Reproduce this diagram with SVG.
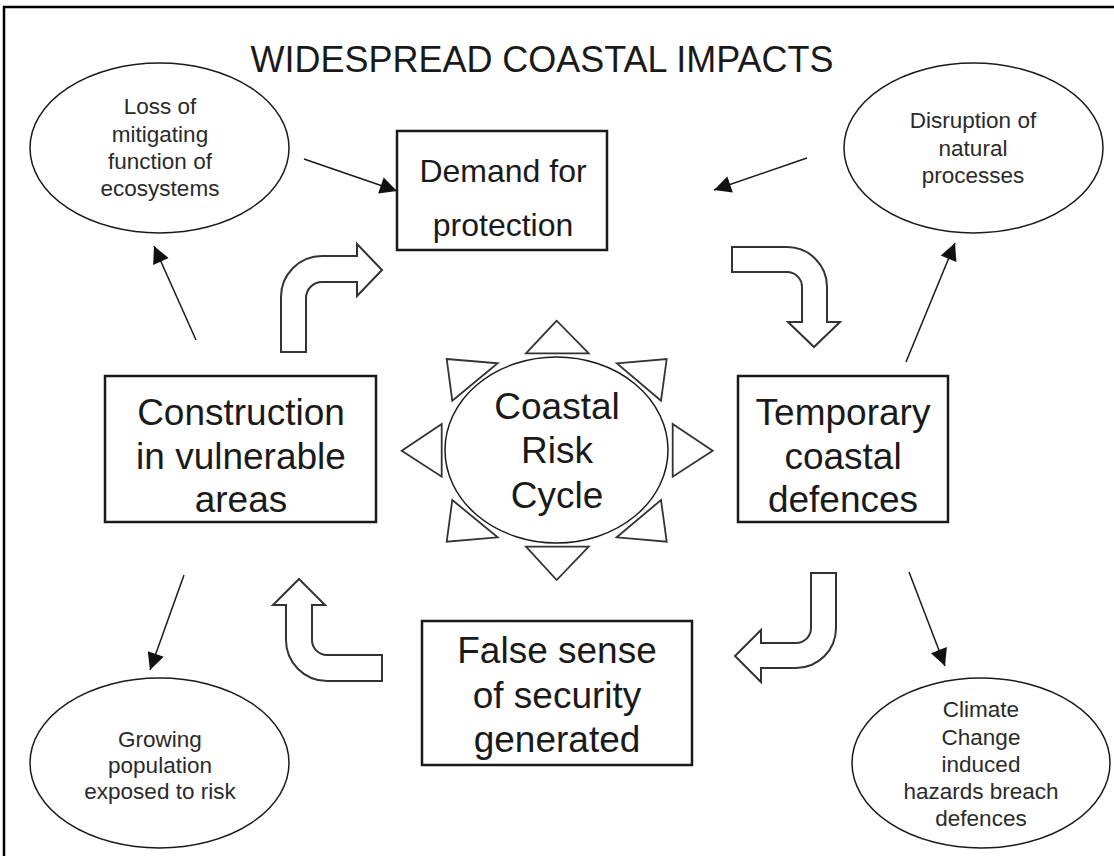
<svg xmlns="http://www.w3.org/2000/svg" width="1114" height="856" viewBox="0 0 1114 856">
<defs>
<style>
.frame{fill:none;stroke:#000;stroke-width:2.5}
.box{fill:#fff;stroke:#1a1a1a;stroke-width:2.5}
.ell{fill:#fff;stroke:#1a1a1a;stroke-width:1.5}
.tri{fill:#fff;stroke:#333;stroke-width:1.8;stroke-linejoin:miter}
.block{fill:#fff;stroke:#333;stroke-width:2}
.thin{fill:none;stroke:#1a1a1a;stroke-width:1.5}
.big{font-family:"Liberation Sans",Arial,sans-serif;font-size:37px;fill:#1a1a1a;text-anchor:middle}
.mid{font-family:"Liberation Sans",Arial,sans-serif;font-size:32px;fill:#1a1a1a;text-anchor:middle}
.small{font-family:"Liberation Sans",Arial,sans-serif;font-size:22.5px;fill:#2a2a2a;text-anchor:middle}
.title{font-family:"Liberation Sans",Arial,sans-serif;font-size:36px;fill:#1a1a1a;text-anchor:middle}
</style>
<marker id="ahBig" viewBox="0 0 10 10" refX="10" refY="5" markerWidth="21" markerHeight="17" markerUnits="userSpaceOnUse" orient="auto">
<path d="M0,0 L10,5 L0,10 Z" fill="#111"/>
</marker>
</defs>
<rect x="0" y="0" width="1114" height="856" fill="#fff"/>
<rect class="frame" x="4" y="7" width="1130" height="870"/>
<text class="title" x="542" y="72" textLength="583" lengthAdjust="spacingAndGlyphs">WIDESPREAD COASTAL IMPACTS</text>

<g id="connectors">
<line class="thin" x1="304" y1="159" x2="397" y2="191" marker-end="url(#ahBig)"/>
<line class="thin" x1="807" y1="158" x2="714" y2="190" marker-end="url(#ahBig)"/>
<line class="thin" x1="196" y1="340" x2="154" y2="246" marker-end="url(#ahBig)"/>
<line class="thin" x1="906" y1="362" x2="955" y2="243" marker-end="url(#ahBig)"/>
<line class="thin" x1="184" y1="575" x2="150" y2="670" marker-end="url(#ahBig)"/>
<line class="thin" x1="909" y1="572" x2="945" y2="666" marker-end="url(#ahBig)"/>
<path id="block1" class="block" d="M281,352 L281,297 A41,41 0 0 1 322,256 L357,256 L357,244 L382,270 L357,296 L357,282 L322,282 A16,16 0 0 0 306,298 L306,352 Z"/>
<path id="block2" class="block" d="M732,247 L787,247 A40,40 0 0 1 827,287 L827,322 L840,322 L814,347 L788,322 L802,322 L802,287 A15,15 0 0 0 787,272 L732,272 Z"/>
<path id="block3" class="block" d="M811,573 L836,573 L836,628 A40,40 0 0 1 796,668 L761,668 L761,682 L735,656 L761,630 L761,643 L796,643 A15,15 0 0 0 811,628 Z"/>
<path id="block4" class="block" d="M299,579 L325,605 L312,605 L312,640 A15,15 0 0 0 327,655 L382,655 L382,681 L327,681 A41,41 0 0 1 286,640 L286,605 L273,605 Z"/>
</g>

<g id="demand">
<rect class="box" x="397" y="131" width="210" height="119"/>
<text class="mid" x="503" y="182">Demand for</text>
<text class="mid" x="503" y="236">protection</text>
</g>

<g id="temporary">
<rect class="box" x="738" y="376" width="210" height="146"/>
<text class="big" x="843" y="425">Temporary</text>
<text class="big" x="843" y="469">coastal</text>
<text class="big" x="843" y="512">defences</text>
</g>

<g id="construction">
<rect class="box" x="105" y="376" width="271" height="146"/>
<text class="big" x="241" y="425">Construction</text>
<text class="big" x="241" y="469">in vulnerable</text>
<text class="big" x="241" y="512">areas</text>
</g>

<g id="falsesense">
<rect class="box" x="422" y="621" width="270" height="144"/>
<text class="big" x="557" y="663">False sense</text>
<text class="big" x="557" y="708">of security</text>
<text class="big" x="557" y="752">generated</text>
</g>

<g id="cycle">
<polygon class="tri" points="556.7,320.7 526,353.3 588.7,353.3"/>
<polygon class="tri" points="616.7,363.3 666.7,359 661,400.7"/>
<polygon class="tri" points="672.7,424 712.7,450.7 672.7,476.7"/>
<polygon class="tri" points="616.7,537.3 661,500 666.7,541.7"/>
<polygon class="tri" points="526,546.7 588.7,546.7 556.7,580"/>
<polygon class="tri" points="446.7,541.7 452.3,500 497.7,537.3"/>
<polygon class="tri" points="441.7,424 401.7,450.7 441.7,476.7"/>
<polygon class="tri" points="446.7,359 497.7,363.3 452.3,400.7"/>
<ellipse class="ell" cx="556.5" cy="450" rx="111.5" ry="93"/>
<text class="big" x="557" y="419">Coastal</text>
<text class="big" x="557" y="463">Risk</text>
<text class="big" x="557" y="508">Cycle</text>
</g>

<g id="loss">
<ellipse class="ell" cx="159.5" cy="148" rx="129.5" ry="85"/>
<text class="small" x="160" y="114">Loss of</text>
<text class="small" x="160" y="142">mitigating</text>
<text class="small" x="160" y="169">function of</text>
<text class="small" x="160" y="196">ecosystems</text>
</g>

<g id="disruption">
<ellipse class="ell" cx="973.5" cy="148" rx="129.5" ry="85"/>
<text class="small" x="973" y="128">Disruption of</text>
<text class="small" x="973" y="156">natural</text>
<text class="small" x="973" y="183">processes</text>
</g>

<g id="growing">
<ellipse class="ell" cx="159.5" cy="763" rx="129.5" ry="85"/>
<text class="small" x="160" y="747">Growing</text>
<text class="small" x="160" y="773">population</text>
<text class="small" x="160" y="799">exposed to risk</text>
</g>

<g id="climate">
<ellipse class="ell" cx="981" cy="763" rx="129" ry="85"/>
<text class="small" x="981" y="717">Climate</text>
<text class="small" x="981" y="745">Change</text>
<text class="small" x="981" y="772">induced</text>
<text class="small" x="981" y="799">hazards breach</text>
<text class="small" x="981" y="826">defences</text>
</g>
</svg>
